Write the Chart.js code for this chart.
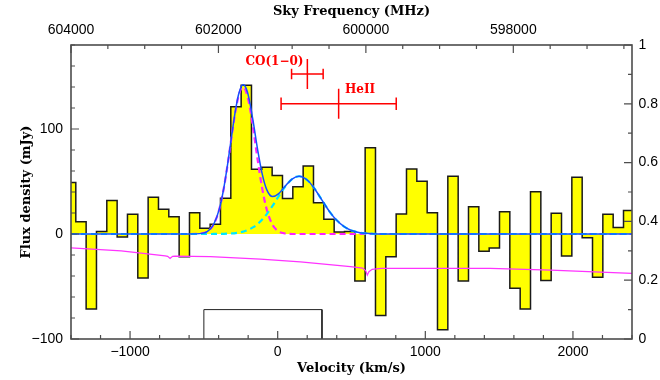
<!DOCTYPE html>
<html>
<head>
<meta charset="utf-8">
<script src="https://cdn.jsdelivr.net/npm/chart.js@4.4.1/dist/chart.umd.min.js"></script>
<style>
  html, body { margin: 0; padding: 0; background: #fff; }
  #wrap { width: 660px; height: 380px; }
</style>
</head>
<body>
<div id="wrap"><canvas id="spec" width="660" height="380"></canvas></div>
<script>
// Channel centres (km/s) and measured flux density (mJy), 70 km/s channels
const channelVel = [
  -1402.5, -1332.5, -1262.5, -1192.5, -1122.5, -1052.5, -982.5, -912.5, -842.5, -772.5,
  -702.5, -632.5, -562.5, -492.5, -422.5, -352.5, -282.5, -212.5, -142.5, -72.5,
  -2.5, 67.5, 137.5, 207.5, 277.5, 347.5, 417.5, 487.5, 557.5, 627.5,
  697.5, 767.5, 837.5, 907.5, 977.5, 1047.5, 1117.5, 1187.5, 1257.5, 1327.5,
  1397.5, 1467.5, 1537.5, 1607.5, 1677.5, 1747.5, 1817.5, 1887.5, 1957.5, 2027.5,
  2097.5, 2167.5, 2237.5, 2307.5, 2377.5
];
const channelFlux = [
  49, 11.7, -71.4, 2.5, 31.8, -2.9, 18.7, -41.9, 34.9, 23.5,
  16.5, -21.6, 20.3, 5.4, 9.2, 34, 121.3, 141.6, 61.6, 63.5,
  55.6, 33.7, 45.1, 64.8, 29.8, 14, 1.9, 2.5, -44.8, 82.2,
  -77.5, -21.6, 19, 61.9, 50.2, 20.3, -91.1, 54.9, -44.8, 26,
  -16.5, -13.3, 21.3, -51.7, -71.4, 40.3, -44.4, 19.7, -21, 54,
  -3.5, -41.3, 18.7, 6.3, 22.5
];

// Two-component line fit: sampled velocities, narrow and broad components, and their sum (mJy)
const fitVel = [
  -1400, -600, -515, -475, -435, -395, -365, -335, -305, -285,
  -265, -245, -235, -225, -205, -185, -165, -135, -105, -75,
  -35, 5, 50, 100, 145, 200, 250, 300, 350, 400,
  450, 500, 550, 600, 650, 700, 2400
];
const fitNarrow = [
  0, 0, 0.6, 2.6, 8.8, 23.8, 43.5, 70, 99.7, 117.7,
  131.6, 139, 140, 139, 131.6, 117.7, 99.7, 70, 43.5, 23.8,
  8.8, 2.6, 0.5, 0, 0, 0, 0, 0, 0, 0,
  0, 0, 0, 0, 0, 0, 0
];
const fitBroad = [
  0, 0, 0, 0, 0.03, 0.08, 0.17, 0.33, 0.61, 0.9,
  1.3, 1.9, 2.2, 2.6, 3.6, 4.9, 6.5, 9.6, 13.7, 18.7,
  26.8, 35.6, 45.0, 52.6, 55, 51.4, 43.1, 32.3, 21.6, 13.0,
  7.0, 3.3, 1.4, 0.6, 0.2, 0, 0
];
const fitTotal = [
  0, 0, 0.6, 2.6, 8.8, 23.9, 43.7, 70.3, 100.3, 118.6,
  132.9, 140.9, 142.2, 141.6, 135.2, 122.6, 106.2, 79.6, 57.2, 42.5,
  35.6, 38.2, 45.5, 52.6, 55, 51.4, 43.1, 32.3, 21.6, 13.0,
  7.0, 3.3, 1.4, 0.6, 0.2, 0, 0
];

// Atmospheric transmission (right axis)
const transVel = [-1400, -1060, -762, -745, -729, -712, -695, -456, -117, 154, 493, 575, 597, 607, 618, 640, 700, 1440, 1850, 2400];
const transVal = [0.310, 0.300, 0.283, 0.281, 0.274, 0.281, 0.282, 0.280, 0.272, 0.262, 0.246, 0.241, 0.232, 0.217, 0.229, 0.237, 0.240, 0.240, 0.234, 0.223];

// Velocity window used for the line integral (right-axis height)
const windowVel = [-500, 300];
const windowLevel = 0.1;

// Expected line positions with uncertainties (km/s)
const lineNames = ['CO(1\u22120)', 'HeII'];
const lineCentreVel = [201, 413];
const lineVelErr = [107, 390];

// Tick labels
const velTicks = [-1000, 0, 1000, 2000];
const freqTicks = [598000, 600000, 602000, 604000];
const fluxTicks = [-100, 0, 100];
const transTicks = [0, 0.2, 0.4, 0.6, 0.8, 1];

// ---- drawing ----
const halfChan = (channelVel[1] - channelVel[0]) / 2;
const histPoints = [{ x: channelVel[0] - halfChan, y: channelFlux[0] }]
  .concat(channelVel.map((v, i) => ({ x: v, y: channelFlux[i] })))
  .concat([{ x: channelVel[channelVel.length - 1] + halfChan, y: channelFlux[channelFlux.length - 1] }]);

const pairs = (xs, ys) => xs.map((v, i) => ({ x: v, y: ys[i] }));

const tickFont = { family: 'Liberation Sans', size: 14 };
const titleFont = { family: 'DejaVu Serif', size: 13, weight: 'bold' };
const minus = v => String(v).replace('-', '\u2212');

// positions of the red line markers (drawing layout)
const markerLayout = [
  { barFlux: 152.4, tickHalfPx: 15, capHalfPx: 5.3, labelVel: -22, labelFlux: 164.3 },
  { barFlux: 124.1, tickHalfPx: 15, capHalfPx: 6.2, labelVel: 558, labelFlux: 137.1 }
];

const marksPlugin = {
  id: 'marks',
  afterDatasetsDraw(chart) {
    const { ctx, chartArea: a, scales } = chart;
    const sx = scales.x, sy = scales.y, sx2 = scales.x2, sy2 = scales.y2;
    ctx.save();

    // red line markers
    ctx.strokeStyle = '#ff0000';
    ctx.fillStyle = '#ff0000';
    ctx.lineWidth = 1.5;
    ctx.font = 'bold 12px "DejaVu Serif"';
    ctx.textAlign = 'center';
    ctx.textBaseline = 'middle';
    lineNames.forEach((name, i) => {
      const L = markerLayout[i];
      const y = sy.getPixelForValue(L.barFlux);
      const x0 = sx.getPixelForValue(lineCentreVel[i] - lineVelErr[i]);
      const x1 = sx.getPixelForValue(lineCentreVel[i] + lineVelErr[i]);
      const xc = sx.getPixelForValue(lineCentreVel[i]);
      ctx.beginPath();
      ctx.moveTo(x0, y); ctx.lineTo(x1, y);
      ctx.moveTo(x0, y - L.capHalfPx); ctx.lineTo(x0, y + L.capHalfPx);
      ctx.moveTo(x1, y - L.capHalfPx); ctx.lineTo(x1, y + L.capHalfPx);
      ctx.moveTo(xc, y - L.tickHalfPx); ctx.lineTo(xc, y + L.tickHalfPx);
      ctx.stroke();
      ctx.fillText(name, sx.getPixelForValue(L.labelVel), sy.getPixelForValue(L.labelFlux));
    });

    // frame
    ctx.strokeStyle = '#4d4d4d';
    ctx.lineWidth = 1.6;
    ctx.strokeRect(a.left, a.top, a.right - a.left, a.bottom - a.top);

    // inward tick marks
    ctx.lineWidth = 1.2;
    ctx.beginPath();
    for (let v = -1400; v <= 2400; v += 200) {
      const px = sx.getPixelForValue(v);
      const len = v % 1000 === 0 ? 8 : 4;
      ctx.moveTo(px, a.bottom); ctx.lineTo(px, a.bottom - len);
    }
    for (let f = 596500; f <= 604000; f += 500) {
      const px = sx2.getPixelForValue(f);
      const len = f % 2000 === 0 ? 8 : 4;
      ctx.moveTo(px, a.top); ctx.lineTo(px, a.top + len);
    }
    for (let s = -100; s <= 180; s += 20) {
      const py = sy.getPixelForValue(s);
      const len = s % 100 === 0 ? 8 : 4;
      ctx.moveTo(a.left, py); ctx.lineTo(a.left + len, py);
    }
    for (let k = 0; k <= 10; k++) {
      const py = sy2.getPixelForValue(k / 10);
      const len = k % 2 === 0 ? 8 : 4;
      ctx.moveTo(a.right, py); ctx.lineTo(a.right - len, py);
    }
    ctx.stroke();
    ctx.restore();
  }
};

const axisBase = {
  type: 'linear',
  grid: { display: false, drawTicks: false },
  border: { display: false }
};

new Chart(document.getElementById('spec'), {
  type: 'line',
  data: {
    datasets: [
      {
        label: 'total fit', data: pairs(fitVel, fitTotal), yAxisID: 'y',
        borderColor: '#1450ff', borderWidth: 1.5, cubicInterpolationMode: 'monotone',
        pointRadius: 0, fill: false, order: 1
      },
      {
        label: 'broad component', data: pairs(fitVel, fitBroad), yAxisID: 'y',
        borderColor: '#00e8ff', borderWidth: 2.2, borderDash: [6, 4], cubicInterpolationMode: 'monotone',
        pointRadius: 0, fill: false, order: 2
      },
      {
        label: 'narrow component', data: pairs(fitVel, fitNarrow), yAxisID: 'y',
        borderColor: '#ff22ff', borderWidth: 2.2, borderDash: [6, 4], cubicInterpolationMode: 'monotone',
        pointRadius: 0, fill: false, order: 3
      },
      {
        label: 'window', data: [
          { x: windowVel[0], y: 0 }, { x: windowVel[0], y: windowLevel },
          { x: windowVel[1], y: windowLevel }, { x: windowVel[1], y: 0 }
        ], yAxisID: 'y2',
        borderColor: '#222', borderWidth: 1, tension: 0, pointRadius: 0, fill: false, order: 4
      },
      {
        label: 'transmission', data: pairs(transVel, transVal), yAxisID: 'y2',
        borderColor: '#ff33ff', borderWidth: 1.2, tension: 0, pointRadius: 0, fill: false, order: 5
      },
      {
        label: 'spectrum', data: histPoints, yAxisID: 'y',
        stepped: 'middle', fill: 'origin', backgroundColor: '#ffff00',
        borderColor: '#1a1a1a', borderWidth: 1.5, pointRadius: 0, order: 6
      }
    ]
  },
  options: {
    responsive: false,
    animation: false,
    devicePixelRatio: 1,
    layout: { padding: 0 },
    plugins: { legend: { display: false }, tooltip: { enabled: false } },
    scales: {
      x: Object.assign({}, axisBase, {
        position: 'bottom', min: -1400, max: 2400,
        afterBuildTicks: s => { s.ticks = velTicks.map(v => ({ value: v })); },
        afterFit: s => { s.height = 41; },
        ticks: { padding: 4.6, font: tickFont, color: '#000', autoSkip: false, maxRotation: 0, callback: minus },
        title: { display: true, text: 'Velocity (km/s)', font: titleFont, color: '#000', padding: { top: 0, bottom: 3.6 } }
      }),
      x2: Object.assign({}, axisBase, {
        position: 'top', reverse: true, min: 596390, max: 604000,
        afterBuildTicks: s => { s.ticks = freqTicks.map(v => ({ value: v })); },
        afterFit: s => { s.height = 45; },
        ticks: { padding: 6.6, font: tickFont, color: '#000', autoSkip: false, maxRotation: 0, callback: v => String(v) },
        title: { display: true, text: 'Sky Frequency (MHz)', font: titleFont, color: '#000', padding: { top: 3.6, bottom: 0 } }
      }),
      y: Object.assign({}, axisBase, {
        position: 'left', min: -100, max: 180,
        afterBuildTicks: s => { s.ticks = fluxTicks.map(v => ({ value: v })); },
        afterFit: s => { s.width = 71; },
        ticks: { padding: 8, font: tickFont, color: '#000', autoSkip: false, callback: minus },
        title: { display: true, text: 'Flux density (mJy)', font: titleFont, color: '#000', padding: { top: 18.6, bottom: 0 } }
      }),
      y2: Object.assign({}, axisBase, {
        position: 'right', min: 0, max: 1,
        afterBuildTicks: s => { s.ticks = transTicks.map(v => ({ value: v })); },
        afterFit: s => { s.width = 28; },
        ticks: { padding: 6.5, font: tickFont, color: '#000', autoSkip: false, callback: v => String(v) }
      })
    }
  },
  plugins: [marksPlugin]
});
</script>
</body>
</html>
